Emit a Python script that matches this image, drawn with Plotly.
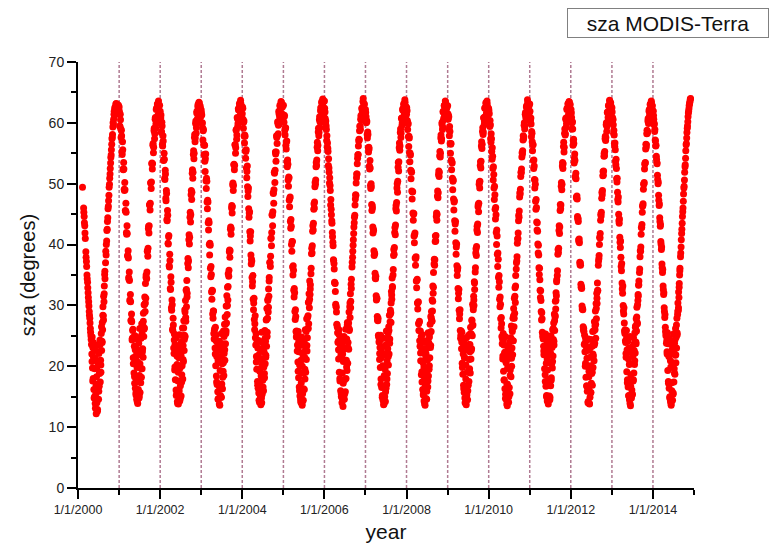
import datetime as dt
import plotly.graph_objects as go

N = None
# day-of-year sampling of the two interleaved overpass tracks
DOY = list(range(1, 122, 5)) + list(range(124, 242, 3)) + list(range(246, 362, 5))
DOY2 = list(range(3, 119, 5)) + list(range(126, 241, 6)) + list(range(248, 359, 5))

YEARS = list(range(2000, 2015))

sza_2000 = [N, N, N, N, N, N, N, N, 49.4, N, 46.0, 44.6, 43.1, 41.0, 38.8, 37.2, 35.0, 33.8, 32.1, 30.6, 29.0, 27.9, 26.2, 25.0, 23.6,
            22.0, 24.8, 19.7, 23.1, 18.0, 21.5, 16.2, 22.8, 15.0, 19.6, 13.9, 21.2, 15.5, 12.2, 18.3, 14.0, 23.4, 12.9, 17.1, 20.5,
            14.6, 22.1, 16.7, 18.9, 24.3, 17.4, 21.0, 19.0, 25.4, 22.6, 24.1, 27.2, 26.0, 29.8, 28.3, 31.5, 30.6, 33.2, 35.1, 34.4,
            37.0, 38.3, 40.6, 42.5, 44.4, 46.3, 48.1, 49.9, 51.6, 53.4, 54.7, 56.5, 57.6, 59.3, 59.8, 61.4, 61.2, 62.6, 61.9, 63.2, 62.1, 63.0, 61.7, 62.9]
sza_2001 = [62.6, 59.5, 61.4, 59.0, 58.8, 55.2, 56.9, 52.4, 53.5, 49.1, 50.2, 45.6, 46.8, 42.0, 43.1, 38.2, 39.0, 34.6, 35.5, 30.9, 31.8, 27.5, 28.6, 24.3, 25.9,
            26.1, 20.4, 24.8, 18.9, 23.3, 17.2, 25.0, 16.4, 21.7, 15.3, 22.9, 14.6, 19.8, 24.5, 13.9, 20.6, 16.2, 23.8, 14.8, 18.5,
            26.2, 15.7, 21.9, 17.3, 24.6, 18.2, 27.0, 19.6, 22.4, 26.8, 21.5, 28.7, 24.9, 30.1, 26.3, 31.4, 29.0, 33.6, 31.2, 35.0,
            34.4, 38.9, 38.1, 42.6, 41.9, 46.5, 45.7, 50.1, 49.2, 53.3, 52.4, 56.3, 55.1, 58.7, 57.4, 60.6, 59.1, 62.2, 60.0, 63.1, 61.2, 63.6, 60.5, 62.9]
sza_2002 = [61.9, 60.8, 58.4, 60.1, 56.5, 57.9, 53.8, 55.0, 50.9, 52.2, 47.6, 48.9, 44.1, 45.6, 40.2, 41.3, 36.5, 38.4, 32.8, 34.7, 29.6, 30.9, 26.1, 27.9, 23.0,
            22.1, 25.3, 19.4, 23.6, 17.8, 22.2, 16.1, 24.7, 15.4, 20.3, 14.2, 23.1, 17.6, 13.8, 21.4, 15.9, 25.2, 14.3, 19.7, 16.8,
            22.5, 15.1, 24.0, 18.6, 20.1, 26.3, 17.9, 23.4, 20.8, 27.5, 22.6, 25.1, 29.3, 24.9, 30.8, 27.4, 32.5, 29.8, 34.1, 32.0,
            36.9, 36.2, 40.8, 40.1, 44.5, 43.7, 48.2, 47.4, 51.7, 50.9, 54.8, 54.1, 57.6, 56.9, 59.9, 58.3, 61.6, 60.1, 62.7, 60.6, 63.4, 61.3, 62.8, 61.0]
sza_2003 = [62.1, 61.3, 60.0, 57.2, 58.9, 54.8, 56.3, 52.0, 54.9, 49.2, 50.4, 45.9, 47.0, 42.4, 43.6, 38.3, 39.9, 34.7, 35.1, 31.0, 32.4, 27.9, 29.1, 24.5, 26.2,
            23.0, 26.4, 20.1, 24.2, 18.4, 21.6, 17.0, 23.9, 15.8, 20.9, 14.7, 22.6, 16.8, 24.1, 13.6, 19.3, 15.2, 22.8, 14.9, 25.4,
            17.1, 20.4, 16.3, 23.7, 19.2, 25.8, 18.5, 22.1, 26.9, 21.0, 28.1, 23.7, 25.4, 29.9, 27.1, 31.6, 28.5, 33.0, 30.9, 35.2,
            34.8, 38.8, 37.9, 42.5, 41.7, 46.0, 45.2, 49.8, 48.9, 53.1, 52.3, 56.4, 55.0, 58.8, 57.3, 60.9, 59.4, 62.3, 60.2, 63.2, 60.9, 63.7, 61.5, 62.6]
sza_2004 = [61.5, 62.4, 59.1, 60.3, 56.7, 57.8, 54.2, 55.6, 51.0, 52.9, 47.9, 49.3, 44.5, 45.4, 40.6, 42.1, 36.8, 37.3, 33.2, 34.9, 29.3, 31.2, 26.0, 28.3, 23.5,
            25.4, 21.6, 19.5, 24.3, 17.5, 23.0, 16.4, 21.1, 15.6, 24.2, 14.1, 19.6, 16.9, 22.7, 13.7, 18.4, 14.8, 25.6, 15.4, 21.2,
            17.7, 23.8, 16.0, 19.9, 22.3, 18.1, 25.9, 20.4, 24.1, 21.8, 27.6, 23.3, 29.5, 25.6, 27.9, 31.0, 28.9, 32.7, 31.5, 34.6,
            37.1, 36.4, 41.0, 39.8, 44.9, 43.1, 48.5, 46.8, 51.9, 50.2, 55.2, 53.7, 57.9, 56.6, 60.2, 58.2, 61.9, 59.8, 62.9, 60.4, 63.5, 61.1, 63.0, 60.8]
sza_2005 = [62.9, 60.1, 61.2, 58.0, 59.2, 55.7, 57.0, 52.8, 53.2, 49.6, 51.0, 46.2, 47.8, 42.7, 43.0, 38.9, 40.5, 35.0, 35.8, 31.4, 32.1, 27.7, 28.2, 24.8, 25.1,
            22.5, 24.9, 20.7, 25.7, 18.1, 22.4, 16.6, 20.2, 15.1, 23.4, 14.5, 21.0, 17.3, 24.8, 13.9, 20.0, 15.5, 22.2, 14.4, 18.9,
            24.4, 16.2, 21.5, 17.9, 26.0, 19.0, 23.2, 21.1, 27.8, 22.5, 24.7, 26.2, 28.3, 30.5, 27.0, 31.9, 29.6, 34.0, 31.8, 33.4,
            35.2, 38.5, 38.6, 42.2, 42.4, 45.8, 46.0, 49.5, 49.9, 52.8, 53.0, 56.0, 55.4, 58.5, 57.9, 60.5, 59.2, 62.0, 60.8, 63.3, 61.4, 63.9, 61.0, 62.4]
sza_2006 = [63.6, 61.8, 59.9, 59.5, 57.1, 56.0, 55.8, 53.0, 52.6, 50.1, 49.7, 46.5, 45.8, 43.9, 42.0, 40.4, 37.5, 36.9, 33.8, 33.6, 30.2, 29.7, 26.9, 26.4, 23.9,
            24.1, 21.2, 26.0, 19.0, 22.6, 17.6, 24.4, 16.0, 21.8, 15.0, 23.6, 14.0, 18.9, 22.0, 13.4, 20.8, 15.6, 24.9, 14.6, 17.8,
            22.9, 15.8, 26.1, 18.0, 21.0, 24.5, 19.3, 27.2, 20.5, 23.9, 26.4, 22.8, 28.9, 26.1, 29.8, 28.0, 31.9, 30.7, 33.5, 34.3,
            36.3, 37.9, 39.9, 41.8, 43.6, 44.8, 47.5, 48.1, 51.0, 51.6, 54.2, 54.8, 57.0, 57.2, 59.5, 58.9, 61.2, 60.4, 62.5, 61.5, 64.0, 62.1, 63.1, 61.7]
sza_2007 = [62.2, 61.0, 60.4, 58.1, 58.5, 55.9, 56.0, 52.9, 53.8, 49.7, 50.0, 46.6, 46.4, 42.9, 42.5, 39.0, 38.6, 35.3, 34.4, 31.6, 31.1, 28.2, 27.5, 25.1, 24.0,
            24.8, 22.1, 23.1, 19.8, 25.1, 17.9, 21.4, 16.5, 23.2, 15.2, 20.0, 14.4, 24.6, 16.6, 13.8, 21.9, 15.0, 19.5, 14.2, 23.5,
            16.4, 25.8, 17.0, 20.9, 18.8, 22.9, 25.4, 20.2, 26.5, 22.0, 28.4, 24.5, 27.3, 29.2, 28.8, 30.4, 32.3, 31.0, 34.5, 33.1,
            35.0, 38.2, 38.4, 42.0, 41.6, 45.9, 45.5, 49.3, 48.6, 52.7, 52.1, 55.9, 55.5, 58.4, 57.6, 60.7, 59.6, 62.1, 60.7, 63.0, 61.6, 63.8, 61.9, 62.7]
sza_2008 = [61.4, 62.0, 58.9, 59.8, 56.1, 57.5, 53.6, 54.7, 50.8, 51.9, 47.5, 48.7, 44.0, 45.1, 40.3, 41.9, 36.6, 38.0, 32.9, 34.3, 29.4, 30.6, 25.9, 27.4, 23.3,
            25.8, 20.9, 24.0, 18.6, 22.9, 17.4, 25.2, 16.2, 20.6, 15.5, 22.3, 14.3, 18.2, 23.9, 13.6, 16.7, 21.6, 14.7, 24.2, 15.9,
            19.1, 23.0, 16.6, 25.5, 18.4, 21.3, 19.5, 24.8, 21.4, 26.9, 23.1, 28.2, 25.7, 29.0, 27.5, 30.9, 29.1, 33.2, 32.0, 35.4,
            36.8, 36.6, 40.5, 40.6, 44.6, 44.0, 48.0, 47.7, 51.5, 51.2, 54.6, 54.4, 57.5, 57.0, 59.8, 58.9, 61.8, 60.5, 62.8, 61.2, 63.6, 61.6, 62.9, 61.4]
sza_2009 = [62.8, 60.6, 61.0, 57.9, 58.6, 55.0, 56.6, 52.3, 53.4, 49.0, 50.6, 45.7, 47.2, 42.2, 43.8, 38.4, 40.1, 34.9, 36.2, 31.1, 32.6, 27.8, 29.3, 24.6, 25.8,
            22.9, 25.6, 20.5, 24.0, 18.7, 22.0, 16.9, 24.3, 15.7, 21.4, 14.8, 23.3, 16.1, 20.2, 13.7, 24.7, 15.3, 19.0, 14.5, 22.7,
            16.9, 25.1, 17.5, 21.1, 19.6, 23.6, 18.9, 26.4, 21.2, 25.3, 22.9, 27.5, 25.0, 30.2, 26.8, 29.3, 31.5, 30.0, 33.9, 32.6,
            35.5, 38.6, 38.2, 42.4, 42.0, 46.2, 45.4, 49.9, 49.3, 53.0, 52.6, 56.2, 55.8, 58.6, 58.1, 60.8, 59.7, 62.4, 60.6, 63.3, 61.5, 63.6, 61.2, 62.5]
sza_2010 = [62.3, 61.5, 59.4, 59.7, 56.8, 57.4, 54.0, 54.5, 50.6, 51.5, 47.4, 48.2, 44.2, 44.9, 40.0, 41.4, 36.4, 37.6, 33.0, 33.9, 29.8, 30.2, 26.3, 27.0, 23.7,
            24.5, 21.7, 25.4, 19.2, 23.5, 17.7, 22.1, 16.3, 24.9, 15.4, 20.8, 14.6, 22.4, 17.1, 13.5, 19.7, 15.8, 23.4, 14.1, 21.3,
            16.5, 24.0, 15.5, 19.4, 22.2, 18.3, 26.6, 20.0, 23.0, 25.7, 21.9, 27.9, 24.2, 29.5, 26.5, 31.2, 28.7, 32.9, 30.5, 34.9,
            36.0, 37.3, 40.2, 41.0, 43.9, 44.5, 47.8, 48.3, 51.2, 51.8, 54.4, 54.9, 57.2, 57.4, 59.6, 59.0, 61.4, 60.9, 62.6, 61.3, 63.8, 61.8, 63.2, 61.6]
sza_2011 = [63.1, 60.3, 60.8, 57.7, 58.3, 55.4, 56.4, 52.5, 52.9, 49.3, 49.9, 45.8, 46.1, 42.4, 42.2, 38.6, 38.3, 35.1, 34.2, 31.3, 30.8, 27.6, 27.8, 24.9, 24.5,
            23.3, 21.9, 24.6, 19.6, 22.8, 17.5, 25.3, 16.7, 20.5, 15.2, 23.8, 14.3, 19.4, 22.5, 13.8, 17.8, 24.3, 15.1, 20.7, 14.9,
            22.0, 16.8, 25.0, 18.1, 20.4, 23.1, 19.7, 26.0, 21.7, 24.4, 27.1, 23.5, 28.6, 25.9, 28.1, 30.7, 29.4, 32.1, 31.6, 34.2,
            34.9, 38.4, 38.7, 42.3, 41.8, 45.6, 45.9, 49.6, 49.0, 52.9, 52.5, 56.1, 55.2, 58.3, 58.0, 60.6, 59.3, 62.2, 60.3, 63.1, 61.2, 63.5, 61.6, 63.0]
sza_2012 = [61.8, 61.6, 59.0, 60.2, 56.3, 57.3, 53.4, 54.9, 51.2, 51.7, 47.8, 48.0, 44.6, 44.3, 40.8, 40.9, 37.1, 37.0, 33.5, 33.1, 29.9, 29.5, 26.5, 26.2, 23.6,
            25.1, 22.4, 20.0, 24.6, 18.2, 23.2, 16.8, 21.3, 15.9, 22.6, 14.0, 24.5, 16.3, 19.2, 13.9, 22.9, 14.9, 20.1, 15.7, 24.4,
            17.2, 18.8, 23.3, 16.9, 25.7, 19.8, 21.7, 24.2, 20.9, 27.3, 23.8, 26.0, 29.1, 24.6, 30.3, 27.8, 32.0, 30.3, 33.7, 32.4,
            36.6, 37.7, 40.0, 41.1, 44.0, 44.7, 47.6, 48.2, 51.3, 51.4, 54.5, 54.6, 57.4, 57.1, 59.7, 58.6, 61.7, 60.2, 62.8, 61.0, 63.7, 61.5, 63.3, 61.9]
sza_2013 = [62.5, 60.9, 60.6, 58.3, 58.0, 56.1, 55.6, 53.1, 52.5, 50.3, 48.6, 47.0, 45.0, 43.5, 41.2, 39.5, 37.9, 35.7, 33.7, 32.0, 30.0, 28.6, 27.1, 25.4, 24.2,
            23.9, 21.5, 25.9, 19.1, 22.7, 17.8, 24.1, 16.6, 21.2, 15.1, 23.0, 14.5, 20.4, 24.9, 13.5, 18.6, 22.3, 14.8, 16.1, 23.2,
            15.4, 21.7, 17.6, 24.7, 18.9, 22.6, 20.3, 25.5, 22.2, 26.6, 24.0, 27.8, 25.8, 29.7, 27.2, 30.1, 30.8, 31.5, 33.3, 34.0,
            35.4, 38.0, 38.9, 41.7, 42.8, 45.3, 46.4, 49.1, 50.0, 52.4, 53.4, 55.7, 56.0, 58.2, 58.3, 60.3, 59.9, 61.9, 61.1, 63.0, 61.8, 63.6, 62.0, 62.8]
sza_2014 = [62.0, 61.2, 59.7, 58.6, 57.2, 56.2, 54.5, 53.5, 51.4, 50.0, 48.1, 46.4, 44.4, 43.0, 40.5, 39.2, 36.8, 35.4, 33.2, 31.8, 29.6, 28.0, 26.4, 25.0, 23.8,
            24.2, 22.0, 25.5, 19.3, 23.7, 17.2, 21.6, 16.4, 24.5, 15.0, 22.1, 14.2, 19.9, 13.6, 23.6, 16.0, 20.6, 14.4, 22.5, 15.6,
            25.3, 17.4, 19.6, 23.8, 18.7, 21.8, 26.2, 20.6, 24.8, 23.0, 27.9, 25.2, 28.5, 30.4, 29.2, 32.2, 31.3, 33.6, 35.0, 36.1,
            38.0, 39.6, 41.8, 43.5, 45.4, 47.1, 49.3, 50.6, 52.8, 54.2, 56.4, 57.5, 59.1, 60.2, 61.6, 62.3, 63.1, 63.6, 64.0, N, N, N, N, N]

sza2_2000 = [N, N, N, N, N, N, N, N, N, N, 45.3, 43.6, 41.9, N, 37.9, 36.4, 34.4, 32.9, 31.3, 29.9, 28.4, 27.1, 25.6, 24.4,
             20.8, 17.6, 23.9, 14.8, 21.3, 13.1, 16.9, 19.8, 12.6, 22.4, 15.9, 18.8, 23.6, 20.2, 26.5, 23.9, 28.4, 27.6, 31.9, 35.6,
             38.9, 40.0, 42.3, 43.8, 45.9, 47.2, 49.4, 50.9, 52.5, 54.3, 55.6, 57.4, 58.1, 60.0, 60.6, 61.9, 62.4, 62.0, 63.1, 62.4, 63.0, 62.2, 61.5]
sza2_2001 = [61.9, 59.4, 60.5, 57.6, 57.9, 54.8, 55.6, 52.3, 52.4, 48.9, 49.0, 45.5, 45.3, 41.7, 41.8, 38.1, 37.8, 34.3, 34.1, 30.7, 30.6, 27.6, 27.3, 24.6,
             21.4, 24.6, 18.3, 22.7, 15.6, 20.9, 14.2, 17.5, 22.6, 15.1, 20.4, 24.8, 19.6, 25.3, 22.9, 27.4, 26.1, 30.2, 30.4, 34.6,
             35.5, 39.0, 39.4, 43.0, 43.1, 46.6, 46.8, 50.2, 50.3, 53.4, 53.3, 56.6, 56.0, 59.1, 58.2, 60.9, 59.8, 62.4, 60.7, 63.0, 61.3, 62.7, 61.0]
sza2_2002 = [60.2, 61.3, 58.6, 59.5, 56.2, 57.0, 53.9, 54.0, 50.7, 51.6, 47.2, 48.4, 43.9, 44.8, 40.1, 41.5, 36.3, 37.4, 32.6, 33.8, 29.2, 30.1, 25.9, 26.8,
             24.3, 19.9, 22.8, 15.2, 21.7, 13.9, 19.0, 16.2, 23.4, 14.7, 21.8, 17.4, 25.0, 21.1, 26.3, 24.4, 28.9, 28.0, 32.6, 31.4,
             37.7, 37.3, 41.6, 41.2, 45.3, 44.9, 48.9, 48.6, 52.3, 51.9, 55.4, 55.0, 58.1, 57.5, 60.3, 59.2, 61.9, 60.7, 63.0, 61.1, 63.3, 60.9, 62.5]
sza2_2003 = [61.6, 59.9, 59.2, 58.7, 56.5, 56.3, 53.7, 54.1, 50.5, 50.9, 47.0, 47.3, 43.6, 43.9, 40.0, 40.2, 36.1, 36.4, 32.2, 32.5, 28.6, 29.1, 25.4, 25.9,
             22.0, 25.1, 17.4, 23.0, 14.6, 20.7, 13.8, 16.4, 21.6, 14.9, 23.5, 18.2, 20.6, 24.9, 22.7, 26.9, 25.8, 29.9, 30.0, 33.1,
             35.8, 39.1, 39.0, 42.9, 42.6, 46.4, 46.2, 50.1, 49.7, 53.2, 53.0, 56.4, 55.9, 58.9, 58.0, 60.7, 59.9, 62.1, 60.8, 62.9, 61.3, 63.2, 61.0]
sza2_2004 = [62.6, 60.6, 60.1, 57.8, 58.0, 55.4, 55.3, 52.6, 52.0, 49.5, 48.8, 45.9, 45.2, 42.1, 41.4, 38.3, 37.6, 34.6, 33.9, 31.0, 30.4, 27.7, 27.0, 24.7,
             20.7, 23.9, 16.9, 21.8, 14.4, 19.2, 15.1, 22.5, 14.0, 20.3, 16.6, 23.1, 18.8, 24.6, 21.5, 27.7, 24.9, 30.8, 29.7, 34.0,
             37.0, 38.1, 41.1, 42.0, 44.8, 45.4, 48.4, 49.0, 51.7, 52.2, 54.9, 55.2, 57.6, 57.9, 59.9, 59.6, 61.5, 61.0, 62.7, 61.6, 63.4, 61.5, 62.6]
sza2_2005 = [61.3, 61.0, 58.8, 59.1, 56.3, 56.9, 53.6, 53.9, 50.6, 51.1, 47.3, 47.6, 43.8, 44.1, 40.0, 40.5, 36.3, 36.5, 32.5, 32.8, 29.0, 29.3, 25.7, 25.8,
             23.5, 19.2, 24.1, 16.0, 20.5, 14.1, 18.9, 13.6, 21.9, 16.3, 24.0, 19.5, 22.8, 25.7, 23.4, 28.0, 26.2, 30.6, 31.0, 32.7,
             36.1, 39.4, 39.8, 43.1, 43.5, 46.7, 47.0, 50.2, 50.6, 53.5, 53.9, 56.8, 56.3, 59.1, 58.4, 61.0, 60.1, 62.5, 61.0, 63.5, 61.6, 63.3, 61.2]
sza2_2006 = [62.4, 60.7, 60.3, 58.9, 57.9, 56.7, 55.3, 54.1, 51.9, 51.0, 48.9, 47.4, 44.9, 43.5, 41.3, 39.8, 37.4, 36.0, 33.7, 32.3, 29.9, 28.9, 26.8, 25.5,
             22.7, 25.2, 18.0, 23.3, 15.5, 21.4, 14.5, 17.2, 23.0, 15.4, 20.9, 24.2, 19.9, 26.8, 23.1, 27.1, 25.9, 30.4, 29.6, 32.8,
             37.1, 38.9, 40.8, 42.9, 44.5, 46.5, 48.2, 50.1, 51.6, 53.3, 54.7, 56.2, 57.3, 58.7, 59.4, 60.6, 61.0, 62.3, 61.8, 63.5, 62.3, 63.0, 62.1]
sza2_2007 = [61.7, 60.0, 60.2, 57.5, 58.1, 55.2, 55.7, 52.4, 52.6, 49.2, 49.5, 45.6, 46.0, 41.9, 42.3, 38.2, 38.5, 34.5, 34.8, 30.9, 31.2, 27.6, 27.9, 24.8,
             21.1, 24.3, 17.0, 22.4, 14.9, 20.1, 13.7, 18.5, 23.3, 15.8, 22.0, 17.9, 24.5, 21.6, 25.9, 23.8, 28.6, 27.2, 31.7, 32.9,
             35.9, 39.2, 39.5, 42.8, 43.2, 46.4, 46.9, 50.0, 50.4, 53.5, 53.6, 56.7, 56.2, 59.0, 58.3, 60.8, 60.0, 62.3, 60.9, 63.2, 61.4, 63.4, 61.1]
sza2_2008 = [62.5, 60.4, 60.0, 57.7, 57.8, 55.1, 55.0, 52.2, 52.1, 48.8, 48.7, 45.2, 45.0, 41.4, 41.6, 37.8, 37.7, 34.0, 34.1, 30.4, 30.5, 27.0, 27.2, 24.2,
             22.2, 24.9, 19.1, 22.9, 15.3, 19.9, 13.9, 16.5, 22.1, 14.6, 21.0, 17.6, 23.9, 20.1, 25.5, 23.4, 27.9, 27.4, 30.7, 33.0,
             37.6, 37.5, 41.4, 41.5, 45.2, 45.0, 48.8, 48.5, 52.1, 51.9, 55.3, 55.0, 58.0, 57.4, 60.1, 59.3, 61.9, 60.8, 62.9, 61.4, 63.4, 61.3, 62.4]
sza2_2009 = [61.5, 61.2, 58.9, 59.4, 56.6, 56.5, 53.9, 53.6, 50.9, 50.4, 47.5, 47.0, 43.9, 43.4, 40.3, 39.6, 36.5, 35.8, 32.8, 32.0, 29.2, 28.6, 25.9, 25.1,
             24.0, 19.8, 23.1, 16.3, 21.5, 14.0, 17.9, 14.8, 22.7, 16.0, 23.6, 19.4, 22.4, 25.4, 22.6, 27.6, 26.7, 29.8, 30.9, 33.7,
             36.2, 39.3, 39.7, 43.0, 43.4, 46.6, 46.8, 50.3, 50.4, 53.6, 53.7, 56.9, 56.5, 59.2, 58.5, 60.9, 60.2, 62.5, 61.1, 63.2, 61.7, 63.1, 61.3]
sza2_2010 = [62.0, 60.2, 60.4, 57.4, 58.2, 55.3, 55.9, 52.5, 52.8, 49.3, 49.6, 45.8, 46.1, 42.0, 42.4, 38.4, 38.6, 34.6, 34.9, 31.0, 31.4, 27.8, 28.0, 24.9,
             21.2, 24.4, 17.8, 22.3, 14.7, 20.6, 13.8, 17.0, 22.9, 15.0, 21.4, 18.5, 24.7, 21.3, 26.0, 24.2, 28.3, 27.9, 31.5, 33.2,
             37.0, 38.0, 40.9, 41.9, 44.8, 45.5, 48.5, 49.1, 51.9, 52.4, 55.1, 55.4, 57.9, 57.7, 60.0, 59.5, 61.7, 61.2, 62.8, 61.8, 63.3, 61.7, 62.7]
sza2_2011 = [61.9, 60.5, 59.8, 58.6, 56.9, 56.4, 53.8, 53.9, 50.7, 50.6, 47.1, 47.4, 43.7, 43.6, 40.1, 39.9, 36.2, 36.1, 32.5, 32.4, 29.0, 28.8, 25.6, 25.4,
             22.5, 25.0, 18.6, 22.1, 15.0, 21.2, 14.3, 16.9, 23.5, 14.5, 22.2, 17.7, 23.2, 20.8, 26.2, 24.1, 27.5, 28.3, 30.8, 33.9,
             35.7, 39.2, 39.4, 43.1, 42.9, 46.6, 46.5, 50.2, 49.9, 53.5, 53.3, 56.8, 56.0, 59.0, 58.2, 60.8, 59.9, 62.4, 60.8, 63.2, 61.5, 63.4, 61.4]
sza2_2012 = [62.2, 60.9, 60.0, 59.0, 57.1, 56.6, 54.2, 53.8, 51.0, 50.8, 47.6, 47.5, 44.2, 43.8, 40.5, 40.3, 36.7, 36.6, 33.0, 32.8, 29.4, 29.3, 26.0, 25.7,
             23.8, 20.5, 24.2, 16.7, 20.0, 14.2, 18.3, 13.8, 21.5, 15.7, 23.3, 19.0, 22.0, 25.8, 23.5, 26.6, 26.9, 29.5, 31.2, 32.5,
             37.3, 38.2, 41.2, 41.8, 45.0, 45.3, 48.6, 48.9, 52.0, 52.1, 55.0, 55.3, 57.8, 57.6, 60.0, 59.4, 61.8, 60.9, 62.9, 61.5, 63.6, 61.6, 62.8]
sza2_2013 = [61.8, 60.4, 59.7, 58.8, 56.6, 56.7, 53.7, 54.0, 50.8, 50.9, 47.4, 47.8, 43.9, 44.2, 40.4, 40.6, 36.4, 36.9, 32.7, 33.2, 29.1, 29.6, 25.8, 26.0,
             22.1, 24.7, 17.3, 22.6, 15.2, 20.3, 13.9, 16.7, 22.4, 15.3, 21.7, 17.8, 23.7, 20.9, 26.4, 23.7, 28.1, 27.0, 31.8, 33.4,
             36.0, 39.0, 39.6, 42.8, 43.3, 46.3, 46.7, 49.9, 50.2, 53.2, 53.5, 56.5, 56.4, 58.8, 58.6, 60.7, 60.3, 62.2, 61.3, 63.1, 61.9, 63.3, 61.6]
sza2_2014 = [61.9, 60.6, 59.9, 58.9, 57.0, 56.3, 54.0, 53.3, 50.7, 50.3, 47.3, 46.7, 43.8, 43.3, 40.1, 39.6, 36.2, 35.9, 32.6, 32.1, 29.0, 28.5, 25.7, 25.3,
             22.4, 24.8, 17.5, 22.2, 14.8, 20.9, 13.9, 17.3, 22.8, 15.4, 22.3, 18.9, 24.4, 21.9, 26.8, 25.5, 29.0, 29.6, 33.0, 35.7,
             38.6, 40.8, 42.5, 44.6, 46.0, 48.3, 49.6, 51.9, 53.1, 55.4, 56.6, 58.4, 59.5, 61.0, 61.9, 62.8, 63.3, 63.9, N, N, N, N, N]

SZA_BY_YEAR = [sza_2000, sza_2001, sza_2002, sza_2003, sza_2004, sza_2005, sza_2006, sza_2007,
               sza_2008, sza_2009, sza_2010, sza_2011, sza_2012, sza_2013, sza_2014]
SZA2_BY_YEAR = [sza2_2000, sza2_2001, sza2_2002, sza2_2003, sza2_2004, sza2_2005, sza2_2006, sza2_2007,
                sza2_2008, sza2_2009, sza2_2010, sza2_2011, sza2_2012, sza2_2013, sza2_2014]

TICK_YEARS = list(range(2000, 2015, 2))
LINE_YEARS = list(range(2001, 2015))

xs, ys = [], []
for days, table in ((DOY, SZA_BY_YEAR), (DOY2, SZA2_BY_YEAR)):
    for yr, vals in zip(YEARS, table):
        for d, v in zip(days, vals):
            if v is None:
                continue
            xs.append(dt.date(yr, 1, 1) + dt.timedelta(days=d - 1))
            ys.append(v)

FONT = "Liberation Sans, Arial, sans-serif"

fig = go.Figure()
fig.add_trace(go.Scatter(
    x=xs, y=ys, mode="markers",
    marker=dict(color="#ff0000", size=7, line=dict(width=0)),
    showlegend=False, name="sza MODIS-Terra"))

for yr in LINE_YEARS:
    fig.add_shape(type="line", xref="x", yref="y",
                  x0=dt.date(yr, 1, 1), x1=dt.date(yr, 1, 1), y0=0, y1=70,
                  line=dict(color="rgb(176,122,146)", width=1.5, dash="3px,2px"),
                  layer="below")

fig.update_layout(
    width=772, height=546,
    margin=dict(l=78, r=78, t=62, b=58),
    paper_bgcolor="white", plot_bgcolor="white",
    font=dict(family=FONT, color="#222222"),
    annotations=[dict(
        text="sza MODIS-Terra", xref="paper", yref="paper",
        x=0.9586, y=1.0915, xanchor="center", yanchor="middle",
        showarrow=False, font=dict(size=21, color="#111111", family=FONT),
        bordercolor="#808080", borderwidth=1, borderpad=2,
        width=196, height=24, bgcolor="white")],
)

fig.update_xaxes(
    type="date", range=["2000-01-01", "2015-01-01"],
    tickmode="array",
    tickvals=[dt.date(y, 1, 1) for y in TICK_YEARS],
    ticktext=["1/1/%d" % y for y in TICK_YEARS],
    ticks="outside", ticklen=9, tickwidth=2, tickcolor="black",
    showline=True, linewidth=2, linecolor="black", showgrid=False, zeroline=False,
    tickfont=dict(size=12.5, color="#222222"),
    minor=dict(ticks="outside", ticklen=5, tickwidth=2, tickcolor="black",
               dtick="M12", tick0="2001-01-01", showgrid=False),
    title=dict(text="year", font=dict(size=21, color="#111111"), standoff=8),
    automargin=False,
)
fig.update_yaxes(
    range=[0, 70], dtick=10, tick0=0,
    ticks="outside", ticklen=9, tickwidth=2, tickcolor="black",
    showline=True, linewidth=2, linecolor="black", showgrid=False, zeroline=False,
    tickfont=dict(size=14, color="#222222"),
    minor=dict(ticks="outside", ticklen=5, tickwidth=2, tickcolor="black", dtick=5, showgrid=False),
    title=dict(text="sza (degrees)", font=dict(size=20, color="#111111"), standoff=8),
    automargin=False,
)

fig.write_html("out.html")
